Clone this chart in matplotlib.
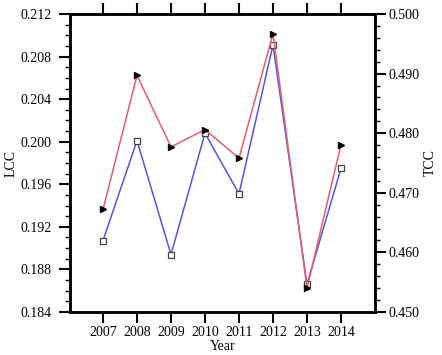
import matplotlib
matplotlib.use("Agg")
import matplotlib.pyplot as plt
from matplotlib.ticker import MultipleLocator, FormatStrFormatter

years = [2007, 2008, 2009, 2010, 2011, 2012, 2013, 2014]
lcc = [0.1907, 0.2001, 0.1894, 0.2008, 0.1951, 0.2091, 0.1866, 0.1975]
tcc = [0.4672, 0.4897, 0.4777, 0.4806, 0.4758, 0.4967, 0.4540, 0.4781]

plt.rcParams['font.family'] = ['Liberation Serif', 'DejaVu Serif']
plt.rcParams['font.size'] = 10

fig = plt.figure(figsize=(4.42, 3.55), dpi=100)
ax1 = fig.add_axes([70/442, 1-312/355, 305/442, 298/355])
ax2 = ax1.twinx()

ax1.plot(years, lcc, color='#5a55d0', lw=1.1, marker='s', ms=4,
         mfc='white', mec='#444444', mew=0.9, zorder=3)
ax2.plot(years, tcc, color='#e0606e', lw=1.1, marker='>', ms=4.8,
         mfc='black', mec='black', zorder=3)

ax1.set_xlim(2006.03, 2015.0)
ax1.set_ylim(0.184, 0.212)
ax2.set_ylim(0.450, 0.500)

ax1.set_xticks(years)
ax1.set_xticklabels([str(y) for y in years])
ax1.yaxis.set_major_locator(MultipleLocator(0.004))
ax1.yaxis.set_minor_locator(MultipleLocator(0.001))
ax1.yaxis.set_major_formatter(FormatStrFormatter('%.3f'))
ax2.yaxis.set_major_locator(MultipleLocator(0.010))
ax2.yaxis.set_minor_locator(MultipleLocator(0.002))
ax2.yaxis.set_major_formatter(FormatStrFormatter('%.3f'))

ax1.tick_params(axis='x', which='major', direction='out', length=8, width=1.5,
                top=True, labeltop=False, bottom=True, pad=2)
ax1.tick_params(axis='y', which='major', direction='out', length=8, width=1.5,
                left=True, right=False, pad=5)
ax1.tick_params(axis='y', which='minor', direction='out', length=3.5, width=1.0,
                left=True, right=False)
ax2.tick_params(axis='y', which='major', direction='out', length=8, width=1.5,
                right=True, left=False, pad=2)
ax2.tick_params(axis='y', which='minor', direction='out', length=3.5, width=1.0,
                right=True, left=False)

for ax in (ax1, ax2):
    for s in ax.spines.values():
        s.set_linewidth(1.8)

ax1.set_xlabel('Year', labelpad=1)
ax1.set_ylabel('LCC', labelpad=2)
ax2.set_ylabel('TCC', labelpad=3)

fig.savefig('out.png', dpi=100)
